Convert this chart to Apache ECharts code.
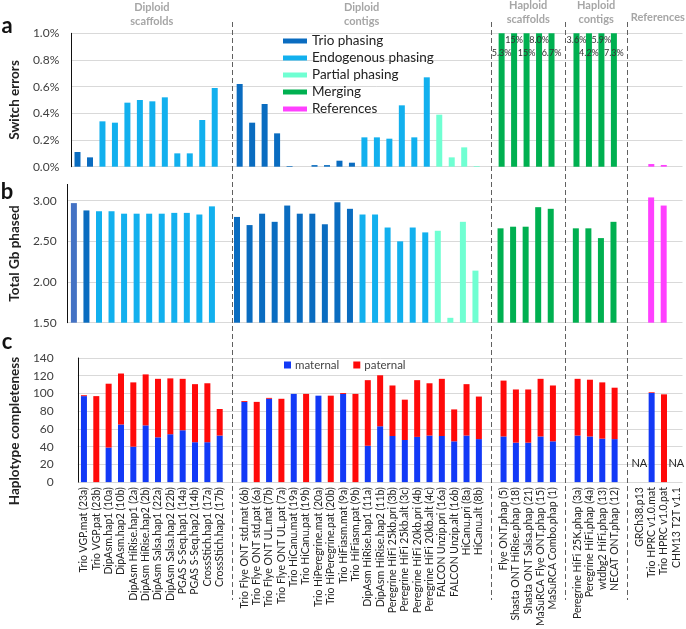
<!DOCTYPE html>
<html><head><meta charset="utf-8">
<script src="https://cdn.jsdelivr.net/npm/echarts@6/dist/echarts.min.js"></script>
<style>html,body{margin:0;padding:0;background:#fff}#c{width:686px;height:629px}</style>
</head><body><div id="c"></div>
<script>
// ---------------- data ----------------
const categories = [
  'Trio VGP.mat (23a)','Trio VGP.pat (23b)','DipAsm.hap1 (10a)','DipAsm.hap2 (10b)','DipAsm HiRise.hap1 (2a)','DipAsm HiRise.hap2 (2b)',
  'DipAsm Salsa.hap1 (22a)','DipAsm Salsa.hap2 (22b)','PGAS S-Seq.hap1 (14a)','PGAS S-Seq.hap2 (14b)','CrossStich.hap1 (17a)','CrossStich.hap2 (17b)',
  'Trio Flye ONT std.mat (6b)','Trio Flye ONT std.pat (6a)','Trio Flye ONT UL.mat (7b)','Trio Flye ONT UL.pat (7a)','Trio HiCanu.mat (19a)','Trio HiCanu.pat (19b)',
  'Trio HiPeregrine.mat (20a)','Trio HiPeregrine.pat (20b)','Trio HiFiasm.mat (9a)','Trio HiFiasm.pat (9b)','DipAsm HiRise.hap1 (11a)','DipAsm HiRise.hap2 (11b)',
  'Peregrine HiFi 25kb.pri (3b)','Peregrine HiFi 25kb.alt (3c)','Peregrine HiFi 20kb.pri (4b)','Peregrine HiFi 20kb.alt (4c)','FALCON Unzip.pri (16a)','FALCON Unzip.alt (16b)',
  'HiCanu.pri (8a)','HiCanu.alt (8b)',
  'Flye ONT.phap (5)','Shasta ONT HiRise.phap (18)','Shasta ONT Salsa.phap (21)','MaSuRCA Flye ONT.phap (15)','MaSuRCA Combo.phap (1)',
  'Peregrine HiFi 25K.phap (3a)','Peregrine HiFi.phap (4a)','wtdbg2 HiFi.phap (13)','NECAT ONT.phap (12)',
  'GRCh38.p13','Trio HPRC v1.0.mat','Trio HPRC v1.0.pat','CHM13 T2T v1.1'
];
const groupSizes = [12, 20, 5, 4, 4];
const groupTitles = [['Diploid','scaffolds'],['Diploid','contigs'],['Haploid','scaffolds'],['Haploid','contigs'],['References']];
// T = Trio phasing, E = Endogenous phasing, P = Partial phasing, M = Merging, R = References
const phasing = [
  'T','T','E','E','E','E','E','E','E','E','E','E',
  'T','T','T','T','T','T','T','T','T','T','E','E','E','E','E','E','P','P','P','P',
  'M','M','M','M','M',
  'M','M','M','M',
  'R','R','R','R'
];
const phasingNames = {T:'Trio phasing', E:'Endogenous phasing', P:'Partial phasing', M:'Merging', R:'References'};
const switchErrors = [ // percent
  0.11,0.07,0.34,0.33,0.48,0.50,0.49,0.52,0.10,0.10,0.35,0.59,
  0.62,0.33,0.47,0.25,0.005,0,0.012,0.012,0.045,0.03,0.22,0.22,0.21,0.46,0.22,0.67,0.39,0.07,0.145,0.005,
  5.3,15,15,8.0,6.7,
  3.6,4.2,5.9,7.3,
  null,0.02,0.013,null
];
const gbPhased = [
  2.97,2.88,2.87,2.87,2.84,2.84,2.84,2.84,2.85,2.85,2.83,2.93,
  2.80,2.70,2.84,2.74,2.94,2.84,2.84,2.71,2.98,2.90,2.83,2.83,2.67,2.50,2.67,2.61,2.63,1.56,2.74,2.14,
  2.66,2.68,2.68,2.92,2.90,
  2.66,2.66,2.54,2.74,
  null,3.04,2.94,null
];
const maternal = [
  97,0,39,65,40,64,50.5,54,58.5,45,45,52.5,
  90.5,0,94,0,99.5,0,97.5,0,99.5,0,41,63,52,47.5,51,52.5,52,46,52.5,48.5,
  51.5,44.5,44.5,51.5,46,
  52.5,51.5,49,48.5,
  null,100.5,0,null
];
const paternal = [
  1,97,72,57.5,72.5,57.5,66,63,58,65.5,66.5,30,
  1,90.5,1,94,0,99.5,0,97.5,1,99.5,74,57.5,57,45.5,64,59,64.5,36,58,48,
  63,60,60,65,63,
  64,64,63.5,58,
  null,0.8,99,null
];
const switchTicks = {min:0, max:1.0, interval:0.2};
const gbTicks = {min:1.5, max:3.2, interval:0.5};
const complTicks = {min:0, max:140, interval:20};

// ---------------- build ----------------
const colors = {T:'#0a6cc0', E:'#12b0ee', P:'#70ffd2', M:'#00b050', R:'#ff40ff'};
const slots = []; const groupOf = []; const posInGroup = [];
let k = 0;
groupSizes.forEach((n, g) => {
  if (g > 0) slots.push({name:'gap' + g, idx:-1});
  for (let i = 0; i < n; i++) { slots.push({name:categories[k], idx:k}); groupOf[k] = g; posInGroup[k] = i; k++; }
});
const slotNames = slots.map(s => s.name);
const FONT = 'Lato';
const gridLine = {show:true, lineStyle:{color:'#d9d9d9', width:1}};

function xAxis(gi, showLabels) {
  return {type:'category', gridIndex:gi, data:slotNames, boundaryGap:true,
    axisLine:{show:false}, axisTick:{show:false},
    axisLabel: showLabels ? {show:true, interval:0, rotate:90, fontSize:10.5, color:'#222', margin:5, fontFamily:FONT,
      formatter: v => v.startsWith('gap') ? '' : v} : {show:false}};
}
function yAxis(gi, t, name, nameGap, fmt, margin, extra, namePad) {
  return Object.assign({type:'value', gridIndex:gi, min:t.min, max:t.max, interval:t.interval,
    name:name, nameLocation:'middle', nameGap:nameGap,
    nameTextStyle:{fontSize:13.5, fontWeight:'bold', color:'#222', fontFamily:FONT, padding:namePad || 0},
    axisLine:{show:true, lineStyle:{color:'#111', width:1}}, axisTick:{show:false},
    axisLabel:{fontSize:12, color:'#404040', margin:margin, formatter:fmt, fontFamily:FONT},
    splitLine:gridLine}, extra || {});
}

const series = [];
['T','E','P','M','R'].forEach(key => {
  series.push({name:phasingNames[key], type:'bar', xAxisIndex:0, yAxisIndex:0, barWidth:6, barGap:'-100%',
    itemStyle:{color:colors[key]}, clip:true,
    data: slots.map(s => {
      if (s.idx < 0 || phasing[s.idx] !== key) return null;
      const v = switchErrors[s.idx];
      if (key === 'M') {
        const g = groupOf[s.idx], j = posInGroup[s.idx];
        const upper = (g === 2) ? (j % 2 === 1) : (j % 2 === 0);
        return {value:v, label:{show:true, position:'insideTop', offset:[0, upper ? -3 : 10], fontSize:9, color:'#333', fontFamily:FONT,
          formatter: p => (p.value >= 10 ? p.value : p.value.toFixed(1)) + '%'}};
      }
      return v;
    })});
  series.push({name:phasingNames[key], type:'bar', xAxisIndex:1, yAxisIndex:1, barWidth:6, barGap:'-100%',
    itemStyle:{color:colors[key]},
    data: slots.map(s => {
      if (s.idx < 0 || phasing[s.idx] !== key) return null;
      if (s.idx === 0) return {value:gbPhased[0], itemStyle:{color:'#4472c4'}};
      return gbPhased[s.idx];
    })});
});
series.push({name:'maternal', type:'bar', xAxisIndex:2, yAxisIndex:2, stack:'c', barWidth:6, itemStyle:{color:'#1239f6'},
  data: slots.map(s => {
    if (s.idx < 0) return null;
    if (maternal[s.idx] === null) return {value:0, label:{show:true, position:'top', distance:13, formatter:'NA', fontSize:11, color:'#222', fontFamily:FONT}};
    return maternal[s.idx];
  })});
series.push({name:'paternal', type:'bar', xAxisIndex:2, yAxisIndex:2, stack:'c', barWidth:6, itemStyle:{color:'#ff0a0a'},
  data: slots.map(s => s.idx < 0 ? null : paternal[s.idx])});

const chart = echarts.init(document.getElementById('c'), null, {renderer:'canvas'});
chart.setOption({
  animation:false,
  textStyle:{fontFamily:FONT},
  grid:[
    {left:60, right:3.5, top:33.3, height:133.4},
    {left:60, right:3.5, top:184.4, height:138.3},
    {left:60, right:3.5, top:358, height:131}
  ],
  xAxis:[xAxis(0,false), xAxis(1,false), xAxis(2,true)],
  yAxis:[
    yAxis(0, switchTicks, 'Switch errors', 41, v => v.toFixed(1) + '%', 12),
    yAxis(1, gbTicks, 'Total Gb phased', 38, v => v.toFixed(2), 11,
      {axisLabel:{fontSize:12, color:'#404040', margin:11, formatter:v => v.toFixed(2), showMaxLabel:false, fontFamily:FONT},
       splitLine:{show:true, showMaxLine:false, lineStyle:{color:'#d9d9d9', width:1}}}),
    yAxis(2, complTicks, 'Haplotype completeness', 36, v => String(v), 24, null, [0, 22, 0, 0])
  ],
  legend:[
    {data:['Trio phasing','Endogenous phasing','Partial phasing','Merging','References'], orient:'vertical',
     left:283, top:34, itemWidth:24, itemHeight:5, itemGap:3, icon:'rect', padding:0,
     textStyle:{fontSize:13.5, color:'#222', lineHeight:14, fontFamily:FONT}},
    {data:['maternal','paternal'], orient:'horizontal', left:284, top:359, itemWidth:7, itemHeight:7, itemGap:14, icon:'rect', padding:0,
     textStyle:{fontSize:11.5, color:'#444', fontFamily:FONT, padding:[0,0,0,-1]}}
  ],
  series:series
});

// separators and group headers positioned from the axis scale
const px = i => chart.convertToPixel({xAxisIndex:2}, i);
const graphics = [];
let start = 0;
groupSizes.forEach((n, g) => {
  const first = start + (g > 0 ? 1 : 0);
  const last = first + n - 1;
  if (g > 0) {
    const x = Math.round(px(start)) + 0.5;
    graphics.push({type:'line', shape:{x1:x, y1:22, x2:x, y2:600}, style:{stroke:'#606060', lineWidth:1, lineDash:[5,3]}, silent:true});
  }
  const cx = (px(first) + px(last)) / 2;
  const lines = groupTitles[g];
  if (lines.length === 2) {
    lines.forEach((t, li) => graphics.push({type:'text', x:cx, y:li === 0 ? (g < 2 ? 7.5 : 5.5) : (g < 2 ? 21 : 19.5),
      style:{text:t, fill:'#a6a6a6', font:'bold 11px ' + FONT, textAlign:'center', textVerticalAlign:'middle'}}));
  } else {
    graphics.push({type:'text', x:cx, y:17, style:{text:lines[0], fill:'#a6a6a6', font:'bold 11px ' + FONT, textAlign:'center', textVerticalAlign:'middle'}});
  }
  start = last + 1;
});
[['a', 26], ['b', 192], ['c', 342]].forEach(([t, y]) => graphics.push({type:'text', x:7, y:y,
  style:{text:t, fill:'#111', font:'bold 22px ' + FONT, textAlign:'center', textVerticalAlign:'middle'}}));
chart.setOption({graphic:graphics});
</script>
</body></html>
